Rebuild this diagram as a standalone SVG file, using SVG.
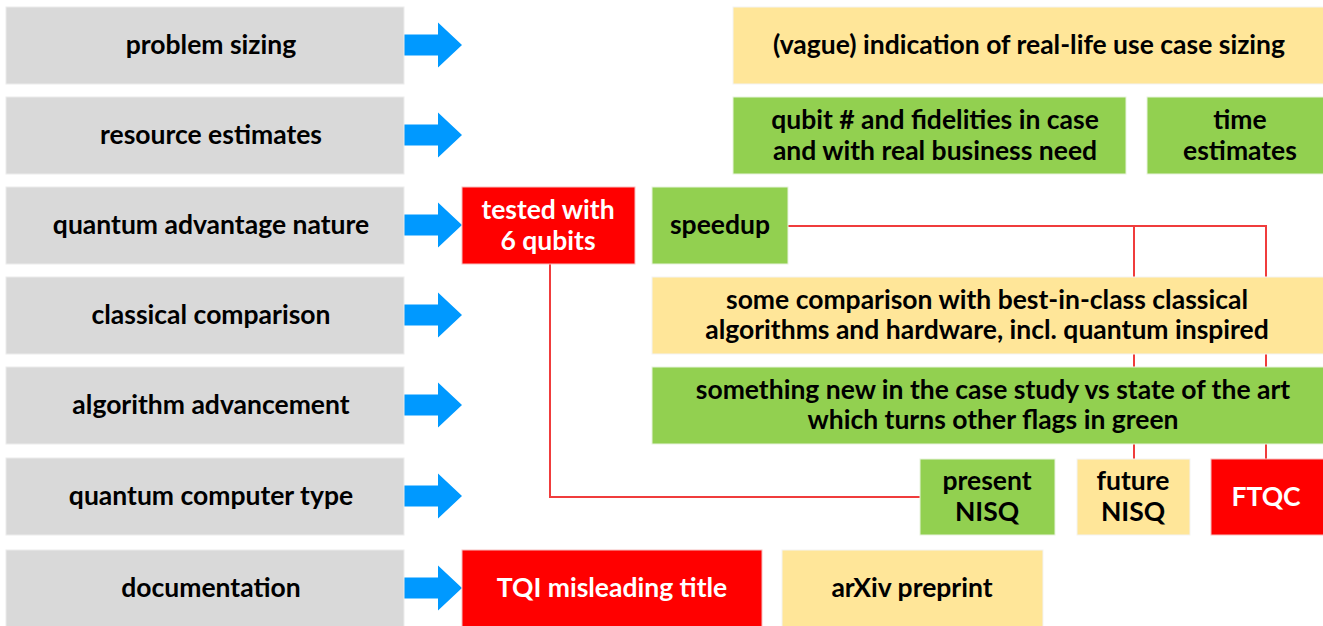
<svg xmlns="http://www.w3.org/2000/svg" width="1323" height="626" viewBox="0 0 1323 626">
<style>
.g{fill:#d9d9d9;stroke:#ececec;stroke-width:1}
.y{fill:#ffe699;stroke:#f3f3f3;stroke-width:1}
.gr{fill:#92d050;stroke:#e8f3de;stroke-width:1}
.r{fill:#ff0000;stroke:#f6c0c0;stroke-width:1}
.arr{fill:#0099ff}
text{font-family:Lato,"Liberation Sans",sans-serif;font-weight:bold;font-size:26.5px;text-anchor:middle;fill:#000}
text.w{fill:#fff}
.ln{fill:none;stroke:#f03c3c;stroke-width:2}
</style>
<rect width="1323" height="626" fill="#fff"/>
<g id="connectors">
<path class="ln" d="M788,226 H1266 V459"/>
<path class="ln" d="M1134,226 V459"/>
<path class="ln" d="M550,264 V497 H920"/>
</g>
<g id="arrows">
<path class="arr" d="M404,34.5 H438 V22.5 L462,45 L438,67.5 V55.5 H404 Z"/>
<path class="arr" d="M404,124.5 H438 V112.5 L462,135 L438,157.5 V145.5 H404 Z"/>
<path class="arr" d="M404,214.5 H438 V202.5 L462,225 L438,247.5 V235.5 H404 Z"/>
<path class="arr" d="M404,304.5 H438 V292.5 L462,315 L438,337.5 V325.5 H404 Z"/>
<path class="arr" d="M404,394.5 H438 V382.5 L462,405 L438,427.5 V415.5 H404 Z"/>
<path class="arr" d="M404,485.5 H438 V473.5 L462,496 L438,518.5 V506.5 H404 Z"/>
<path class="arr" d="M404,577.5 H438 V565.5 L462,588 L438,610.5 V598.5 H404 Z"/>
</g>
<g id="n-problem-sizing"><rect class="g" x="6" y="7" width="398" height="77"/><text x="211" y="54">problem sizing</text></g>
<g id="n-resource-estimates"><rect class="g" x="6" y="97" width="398" height="77"/><text x="211" y="144">resource estimates</text></g>
<g id="n-qa-nature"><rect class="g" x="6" y="187" width="398" height="77"/><text x="211" y="234">quantum advantage nature</text></g>
<g id="n-classical"><rect class="g" x="6" y="277" width="398" height="77"/><text x="211" y="324">classical comparison</text></g>
<g id="n-algorithm"><rect class="g" x="6" y="367" width="398" height="77"/><text x="211" y="414">algorithm advancement</text></g>
<g id="n-qc-type"><rect class="g" x="6" y="458" width="398" height="77"/><text x="211" y="505">quantum computer type</text></g>
<g id="n-documentation"><rect class="g" x="6" y="550" width="398" height="77"/><text x="211" y="597">documentation</text></g>
<g id="n-vague"><rect class="y" x="733" y="7" width="591" height="77"/><text x="1029" y="54">(vague) indication of real-life use case sizing</text></g>
<g id="n-qubit"><rect class="gr" x="733" y="97" width="393" height="77"/><text x="935" y="129">qubit # and fidelities in case</text><text x="935" y="160">and with real business need</text></g>
<g id="n-time"><rect class="gr" x="1147" y="97" width="177" height="77"/><text x="1240" y="129">time</text><text x="1240" y="160">estimates</text></g>
<g id="n-tested"><rect class="r" x="462" y="187" width="173" height="77"/><text class="w" x="548" y="219">tested with</text><text class="w" x="548" y="250">6 qubits</text></g>
<g id="n-speedup"><rect class="gr" x="652" y="187" width="136" height="77"/><text x="720" y="234">speedup</text></g>
<g id="n-comparison"><rect class="y" x="652" y="277" width="672" height="77"/><text x="987" y="309">some comparison with best-in-class classical</text><text x="987" y="339">algorithms and hardware, incl. quantum inspired</text></g>
<g id="n-new"><rect class="gr" x="652" y="367" width="672" height="77"/><text x="993" y="399">something new in the case study vs state of the art</text><text x="993" y="429">which turns other flags in green</text></g>
<g id="n-present"><rect class="gr" x="920" y="459" width="135" height="76"/><text x="987" y="490">present</text><text x="987" y="521">NISQ</text></g>
<g id="n-future"><rect class="y" x="1077" y="459" width="113" height="76"/><text x="1133" y="490">future</text><text x="1133" y="521">NISQ</text></g>
<g id="n-ftqc"><rect class="r" x="1211" y="459" width="113" height="76"/><text class="w" x="1266" y="506">FTQC</text></g>
<g id="n-tqi"><rect class="r" x="462" y="550" width="300" height="77"/><text class="w" x="612" y="597">TQI misleading title</text></g>
<g id="n-arxiv"><rect class="y" x="782" y="550" width="261" height="77"/><text x="912" y="597">arXiv preprint</text></g>
</svg>
